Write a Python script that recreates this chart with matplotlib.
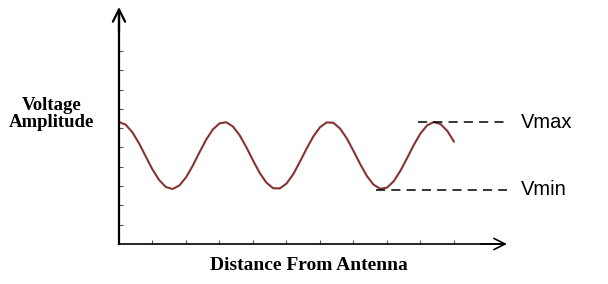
import numpy as np
import matplotlib
matplotlib.use("Agg")
import matplotlib.pyplot as plt

# standing wave voltage amplitude (x in tick units)
distance = np.linspace(0, 10, 51)
amplitude = [
    6.32, 6.18, 5.79, 5.21, 4.53, 3.86, 3.31, 2.95, 2.85, 3.03,
    3.45, 4.05, 4.74, 5.40, 5.93, 6.25, 6.31, 6.09, 5.64, 5.02,
    4.33, 3.68, 3.18, 2.89, 2.88, 3.13, 3.61, 4.26, 4.94, 5.57,
    6.05, 6.30, 6.28, 5.98, 5.47, 4.82, 4.14, 3.52, 3.07, 2.86,
    2.92, 3.25, 3.79, 4.45, 5.13, 5.73, 6.15, 6.32, 6.21, 5.86,
    5.30,
]
v_max = 6.32
v_min = 2.82
vmax_span = [8.93, 11.58]
vmin_span = [7.67, 11.58]
ticks = list(range(1, 11))

fig = plt.figure(figsize=(6.08, 2.84), dpi=100)
ax = fig.add_axes([0, 0, 1, 1])
ax.set_xlim(-3.552, 14.597)
ax.set_ylim(-2.073, 12.642)

for side in ["top", "right"]:
    ax.spines[side].set_visible(False)
ax.spines["left"].set_position(("data", 0))
ax.spines["bottom"].set_position(("data", 0))
ax.spines["left"].set_bounds(0, 12.0)
ax.spines["bottom"].set_bounds(0, 11.4)
ax.spines["left"].set_linewidth(1.6)
ax.spines["bottom"].set_linewidth(1.2)
ax.set_xticks(ticks)
ax.set_yticks(ticks)
ax.set_xticklabels([])
ax.set_yticklabels([])
ax.tick_params(direction="in", length=3, width=0.8, color="#555555")

# arrow heads on the axes
ax.annotate("", xy=(0, 12.28), xytext=(0, 11.0),
            arrowprops=dict(arrowstyle="->", lw=1.6, color="black",
                            mutation_scale=22, shrinkA=0, shrinkB=0))
ax.annotate("", xy=(11.58, 0), xytext=(10.8, 0),
            arrowprops=dict(arrowstyle="->", lw=1.2, color="black",
                            mutation_scale=20, shrinkA=0, shrinkB=0))

ax.plot(distance, amplitude, color="#883333", lw=1.5,
        solid_joinstyle="round", solid_capstyle="round")

ax.plot(vmax_span, [v_max, v_max], color="black", lw=1.1, dashes=(6, 4))
ax.plot(vmin_span, [v_min, v_min], color="black", lw=1.1, dashes=(6, 4))

ax.text(12.0, v_max, "Vmax", fontsize=14.5, family="Liberation Sans",
        va="center", ha="left")
ax.text(12.0, v_min, "Vmin", fontsize=14.5, family="Liberation Sans",
        va="center", ha="left")

ax.text(-2.0, 6.75, "Voltage\nAmplitude", fontsize=13.5, family="Liberation Serif",
        fontweight="bold", ha="center", va="center", linespacing=1.0)
ax.text(5.67, -1.1, "Distance From Antenna", fontsize=14, family="Liberation Serif",
        fontweight="bold", ha="center", va="center")

fig.savefig("out.png", dpi=100)
